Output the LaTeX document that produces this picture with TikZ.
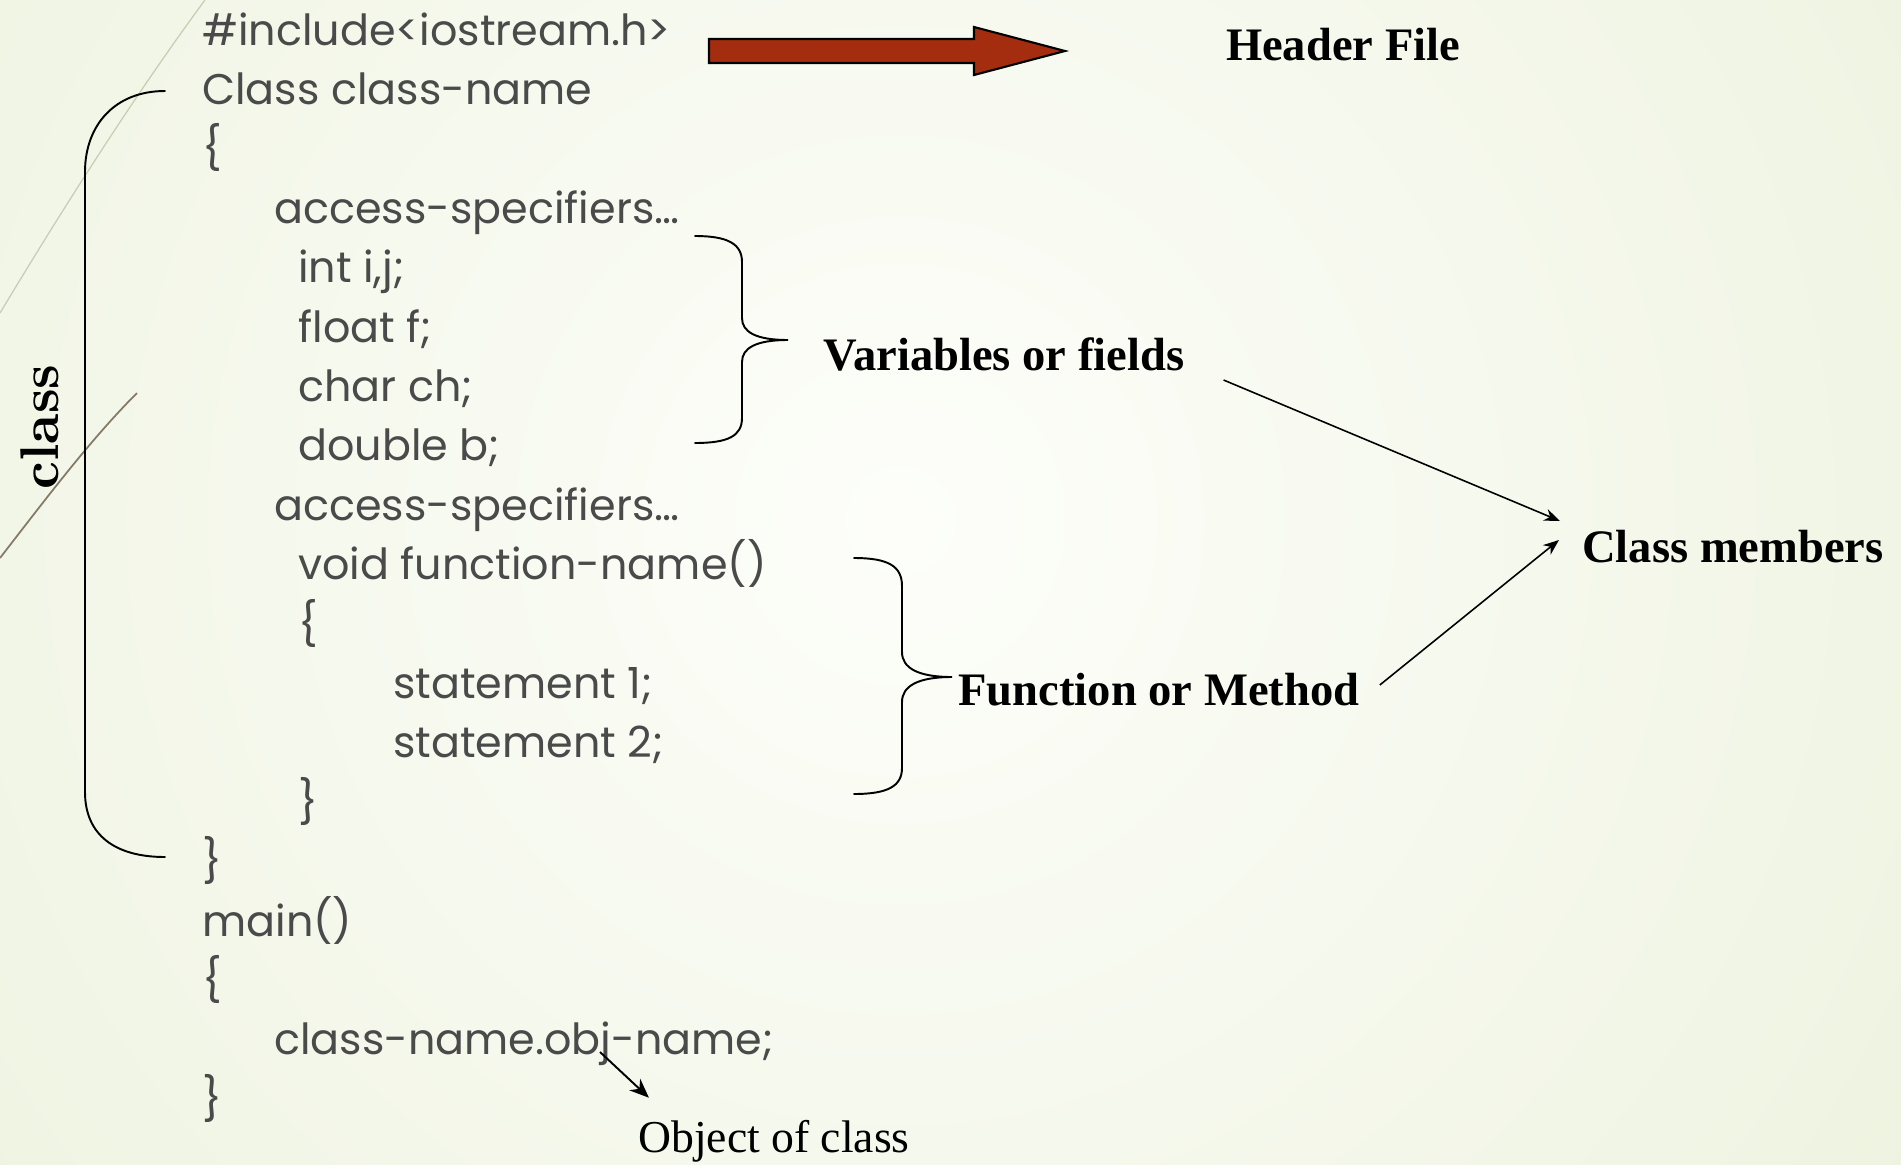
\documentclass[tikz,border=0pt]{standalone}
\usepackage{fontspec}
\newfontfamily\codefont{Poppins}
\newfontfamily\labfont{Liberation Serif}
\newfontfamily\clsfont{lmroman10-bold.otf}
\usetikzlibrary{arrows.meta}

\definecolor{codegray}{HTML}{4A4A4A}
\definecolor{arrowred}{HTML}{A52D0F}
\definecolor{bgin}{HTML}{FDFEFA}
\definecolor{bgout}{HTML}{E2EACB}
\definecolor{lightdeco}{HTML}{CBCBB4}
\definecolor{darkdeco}{HTML}{857A66}

\tikzset{
  code/.style={anchor=base west,inner sep=0pt,text=codegray,font=\codefont\fontsize{24.4}{30}\selectfont},
  lab/.style={inner sep=0pt,font=\labfont\bfseries\fontsize{26.5}{30}\selectfont},
  brace/.style={line width=1.1pt,line cap=round},
  memarrow/.style={line width=0.9pt,-{Stealth[length=9pt,width=7pt]}}
}

\begin{document}
\begin{tikzpicture}[x=0.02cm,y=-0.02cm]
 \useasboundingbox (0,0) rectangle (1901,1164);
 % background
 \begin{scope}
  \clip (0,0) rectangle (1901,1164);
  \shade[inner color=bgin,outer color=bgout] (900,520) circle (2200);
 \end{scope}
 \draw[lightdeco,line width=0.7pt](0,313) .. controls (65,205) and (135,95) .. (205,0);
 \draw[darkdeco,line width=1pt](0,558) .. controls (45,500) and (90,440) .. (137,393);

 % code lines
 \node[code] (inc) at (202,45) {\#include<iostream.h>};
 \node[code] (cls) at (202,104.4) {Class class-name};
 \node[code] (ob) at (202,163.8) {\{};
 \node[code] (acc1) at (274,223.2) {access-specifiers…};
 \node[code] (vi) at (298,282.6) {int i,j;};
 \node[code] (vf) at (298,342) {float f;};
 \node[code] (vc) at (298,401.4) {char ch;};
 \node[code] (vd) at (298,460.8) {double b;};
 \node[code] (acc2) at (274,520.2) {access-specifiers…};
 \node[code] (fn) at (298,579.6) {void function-name()};
 \node[code] (fob) at (298,639) {\{};
 \node[code] (st1) at (393,698.4) {statement 1;};
 \node[code] (st2) at (393,757.8) {statement 2;};
 \node[code] (fcb) at (298,817.2) {\}};
 \node[code] (cb) at (202,876.6) {\}};
 \node[code] (mn) at (202,936) {main()};
 \node[code] (mob) at (202,995.4) {\{};
 \node[code] (obj) at (274,1054.8) {class-name.obj-name;};
 \node[code] (mcb) at (202,1114.2) {\}};

 % header file arrow
 \draw[fill=arrowred,line width=1.2pt,line join=miter](709,39)--(974,39)--(974,27)--(1065,51)--(974,75)--(974,63)--(709,63)--cycle;
 \node[lab] (hdr) at (1343,45) {Header File};

 % class bracket
 \draw[brace](165,91) .. controls (115,91) and (85,125) .. (85,172) -- (85,792) .. controls (85,835) and (115,857) .. (165,857);
 \node[rotate=90,inner sep=0pt,font=\clsfont\fontsize{31}{34}\selectfont] (clsl) at (40,427) {class};

 % variables brace
 \draw[brace](695,236) .. controls (728,236) and (742,244) .. (742,262) -- (742,318) .. controls (742,332) and (756,340) .. (788,340) .. controls (756,340) and (742,348) .. (742,362) -- (742,418) .. controls (742,436) and (728,443) .. (695,443);
 \node[lab] (var) at (1004,354) {Variables or fields};

 % function brace
 \draw[brace](854,558) .. controls (888,558) and (902,566) .. (902,586) -- (902,652) .. controls (902,668) and (918,677) .. (952,677) .. controls (918,677) and (902,686) .. (902,702) -- (902,768) .. controls (902,786) and (888,794) .. (854,794);
 \node[lab] (fm) at (1159,690) {Function or Method};

 \node[lab] (mem) at (1733,547) {Class members};
 \draw[memarrow]([shift={(39,26)}]var.east) -- ([shift={(-22,-26)}]mem.west);
 \draw[memarrow]([shift={(20,-5)}]fm.east) -- ([shift={(-23,-7)}]mem.west);

 % object of class
 \node[inner sep=0pt,font=\labfont\fontsize{26}{30}\selectfont] (oc) at (774,1141) {Object of class};
 \coordinate (objj) at (600,1052);
 \draw[line width=1.1pt,-{Stealth[length=11pt,width=9pt]}](objj) -- ([shift={(11,-22)}]oc.north west);
\end{tikzpicture}
\end{document}
